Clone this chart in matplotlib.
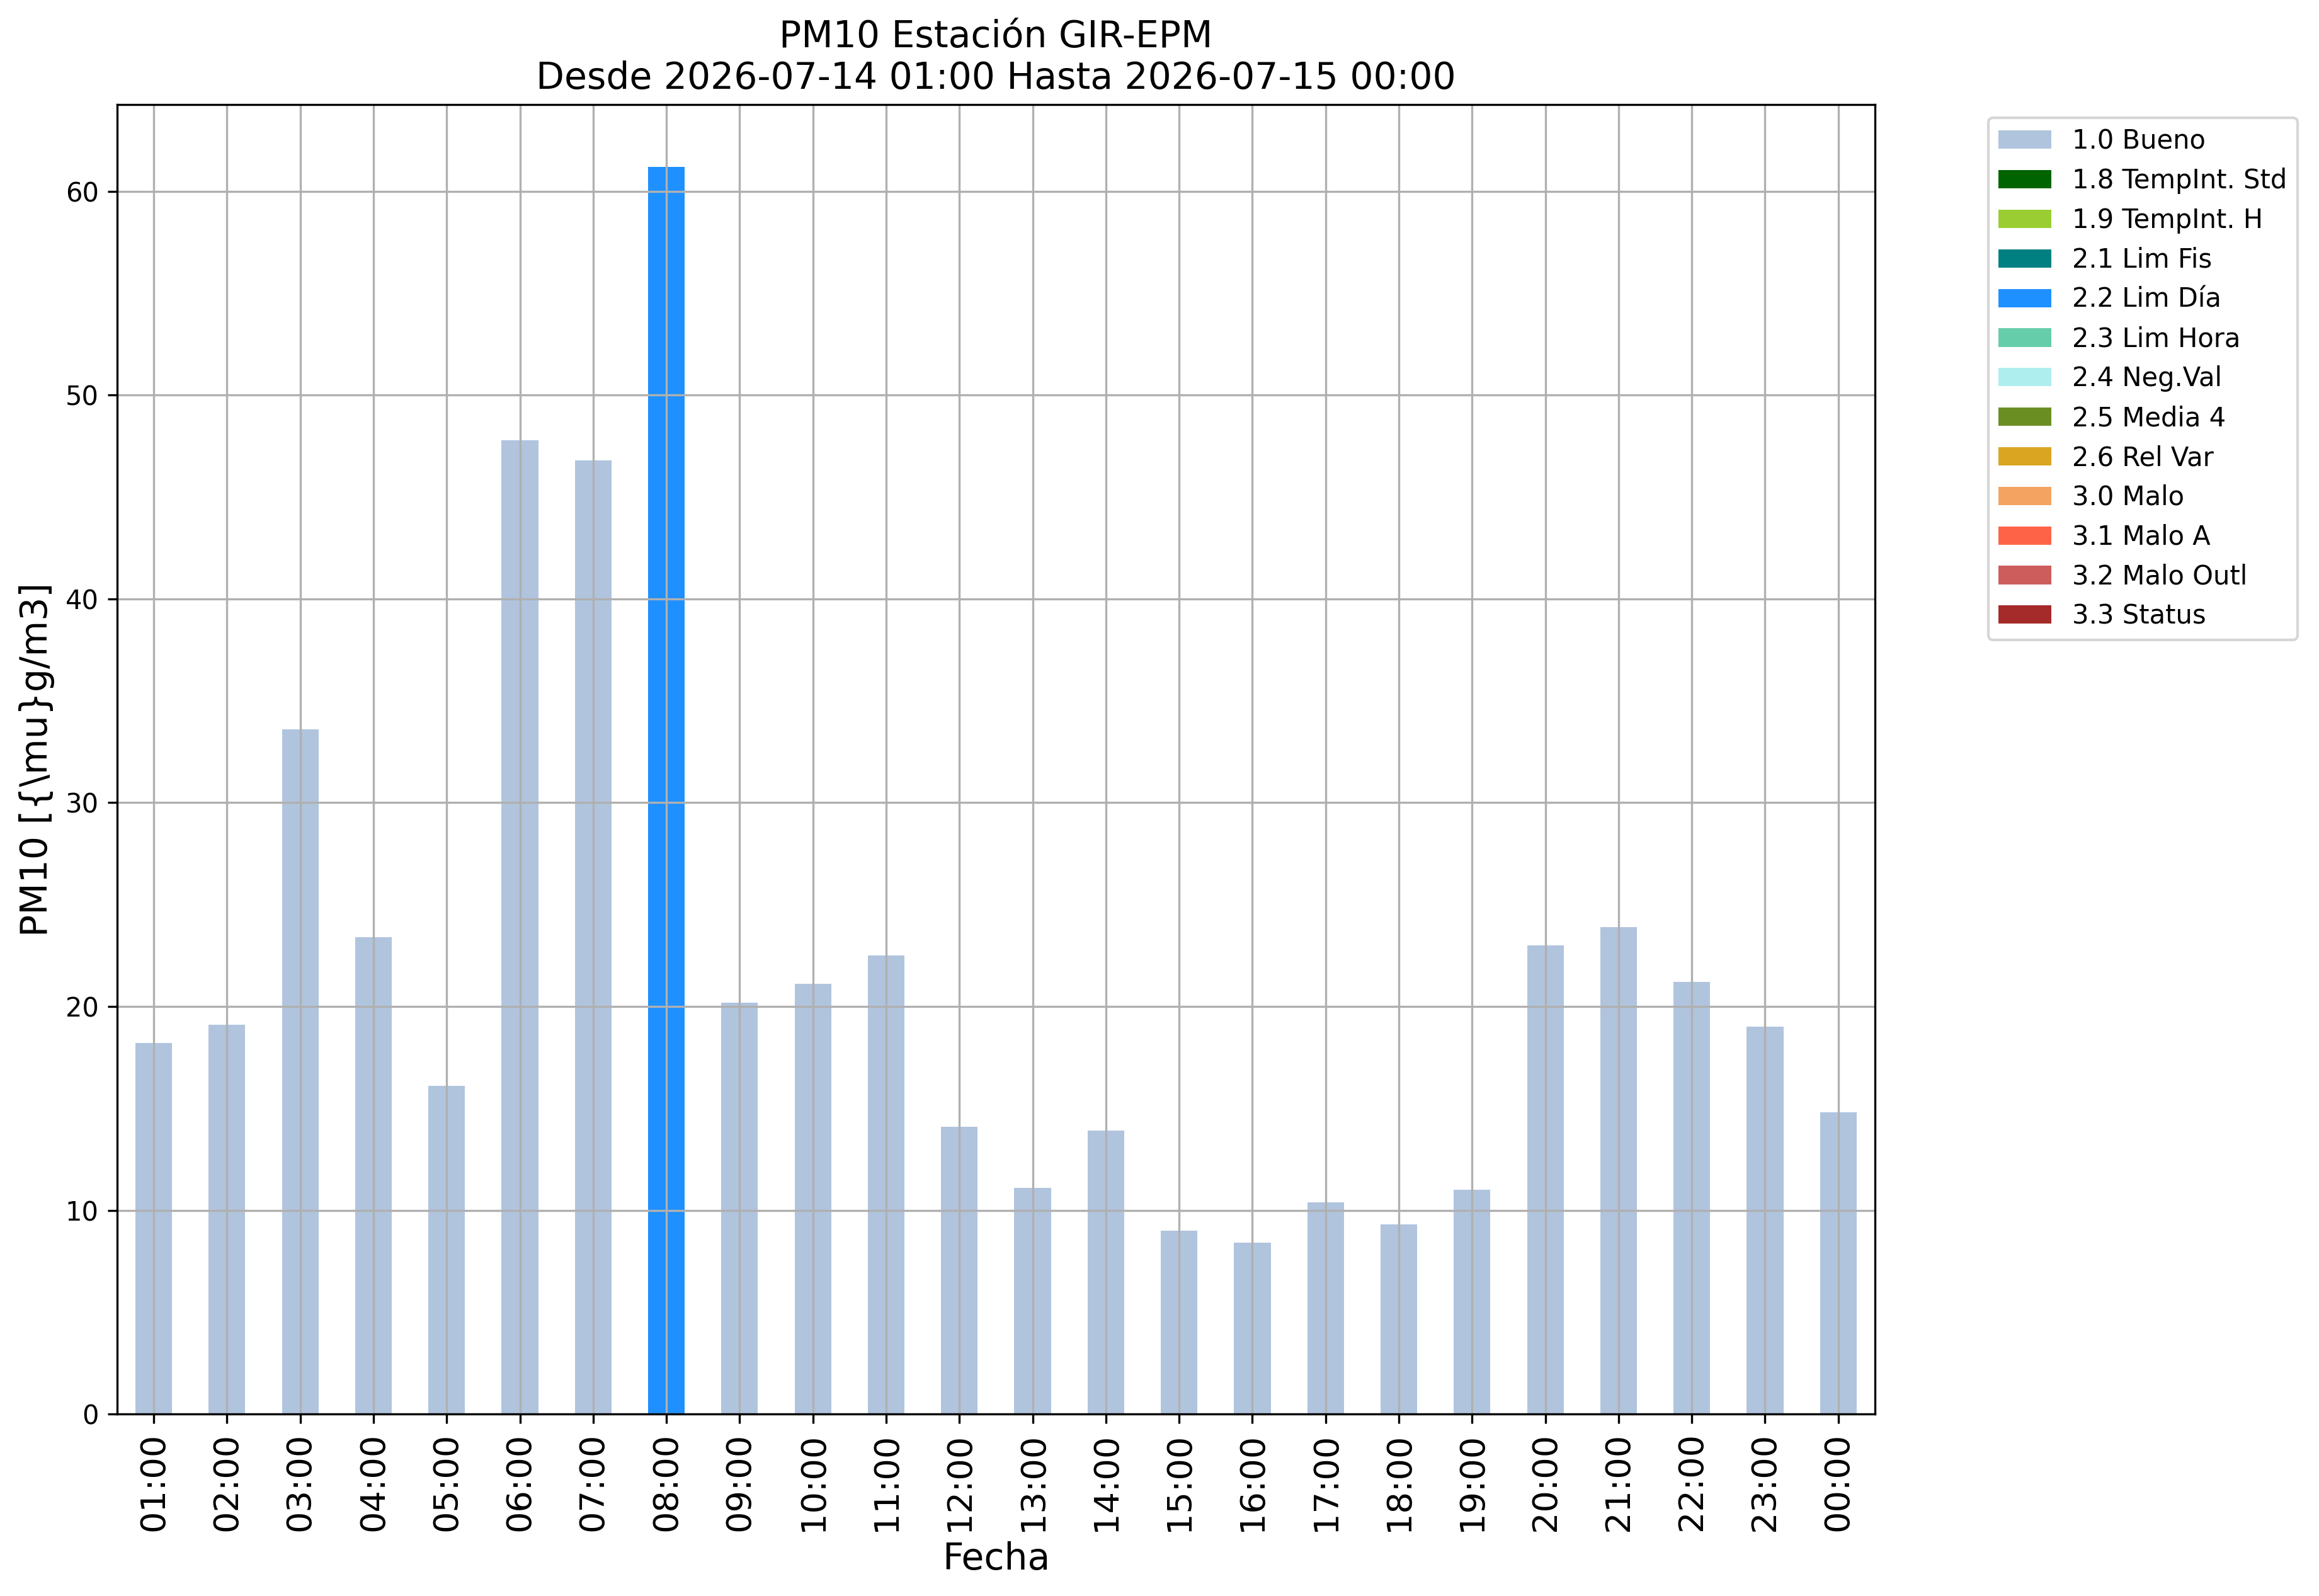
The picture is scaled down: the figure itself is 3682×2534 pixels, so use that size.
import matplotlib
matplotlib.use("Agg")
import matplotlib.pyplot as plt
import numpy as np

hours = ["01:00", "02:00", "03:00", "04:00", "05:00", "06:00", "07:00", "08:00",
         "09:00", "10:00", "11:00", "12:00", "13:00", "14:00", "15:00", "16:00",
         "17:00", "18:00", "19:00", "20:00", "21:00", "22:00", "23:00", "00:00"]
pm10 = [18.2, 19.1, 33.6, 23.4, 16.1, 47.8, 46.8, 61.2,
        20.2, 21.1, 22.5, 14.1, 11.1, 13.9, 9.0, 8.4,
        10.4, 9.3, 11.0, 23.0, 23.9, 21.2, 19.0, 14.8]
flags = ["1.0 Bueno"] * 7 + ["2.2 Lim Día"] + ["1.0 Bueno"] * 16

categories = ["1.0 Bueno", "1.8 TempInt. Std", "1.9 TempInt. H", "2.1 Lim Fis",
              "2.2 Lim Día", "2.3 Lim Hora", "2.4 Neg.Val", "2.5 Media 4",
              "2.6 Rel Var", "3.0 Malo", "3.1 Malo A", "3.2 Malo Outl", "3.3 Status"]
cat_colors = ["lightsteelblue", "darkgreen", "yellowgreen", "teal", "dodgerblue",
              "mediumaquamarine", "paleturquoise", "olivedrab", "goldenrod",
              "sandybrown", "tomato", "indianred", "brown"]

fig = plt.figure(figsize=(3682 / 300, 2534 / 300), dpi=300)
ax = fig.add_axes([0.0505, 0.114, 0.8085 - 0.0505, 0.9345 - 0.114])

x = np.arange(len(hours))
bottom = np.zeros(len(hours))
for cat, col in zip(categories, cat_colors):
    h = np.array([v if f == cat else 0.0 for v, f in zip(pm10, flags)])
    ax.bar(x, h, width=0.5, bottom=bottom, color=col, label=cat, align="center")
    bottom = bottom + h

ax.set_xlim(-0.5, len(hours) - 0.5)
ax.set_ylim(0, max(pm10) * 1.05)
ax.set_xticks(x)
ax.set_xticklabels(hours, rotation=90, fontsize=13)
ax.tick_params(axis="y", labelsize=10)
ax.grid(True)
ax.set_xlabel("Fecha", fontsize=14)
ax.set_ylabel("PM10 [{\\mu}g/m3]", fontsize=14)
ax.set_title("PM10 Estación GIR-EPM\nDesde 2026-07-14 01:00 Hasta 2026-07-15 00:00", fontsize=14)
ax.legend(loc="upper left", bbox_to_anchor=(1.057, 1), fontsize=10)

fig.savefig("out.png", dpi=300)
